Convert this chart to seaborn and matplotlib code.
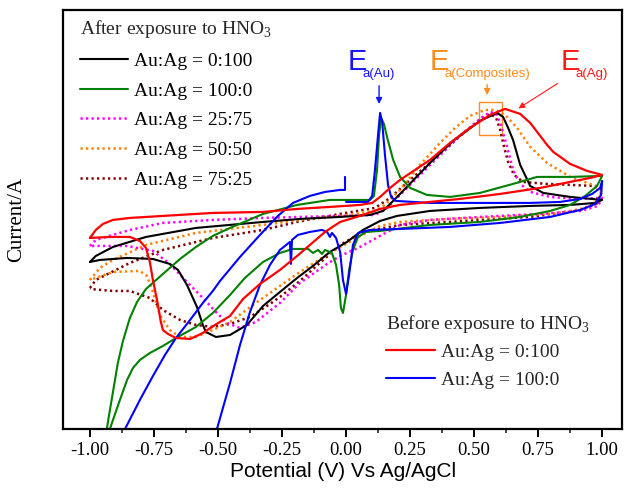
import matplotlib
matplotlib.use("Agg")
import matplotlib.pyplot as plt
import matplotlib.ticker as ticker
from matplotlib.patches import Rectangle
import seaborn as sns

# === Cyclic voltammograms (potential in V, current in arb. units) ===

# Before exposure, Au:Ag = 0:100
red_v = [-1.000, -0.977, -0.949, -0.910, -0.844, -0.715, -0.520, -0.324, -0.191, -0.063, 0.055, 0.102,
         0.133, 0.172, 0.211, 0.328, 0.406, 0.484, 0.563, 0.621, 0.680, 0.719, 0.746, 0.785, 0.809, 0.875,
         0.941, 1.000,
         0.953, 0.875, 0.758, 0.602, 0.445, 0.289, 0.211, 0.133, 0.055, -0.023, -0.082, -0.141, -0.191,
         -0.258, -0.336, -0.402, -0.453, -0.512, -0.559, -0.609, -0.664, -0.695, -0.715, -0.723, -0.738,
         -0.754, -0.766, -0.781, -0.805, -0.844, -0.922, -1.000]
red_i = [-3.8, -3.0, -2.4, -2.0, -1.8, -1.6, -1.3, -1.2, -0.9, -0.7, -0.5, -0.3,
         0.3, 1.2, 2.0, 4.0, 5.7, 7.2, 8.5, 9.1, 8.6, 7.7, 6.8, 5.5, 4.8, 3.6,
         2.9, 2.5,
         2.2, 1.8, 1.2, 0.6, 0.1, -0.3, -0.5, -0.9, -1.6, -2.2, -3.2, -4.5, -5.6,
         -7.0, -8.4, -9.9, -11.6, -12.5, -13.3, -13.9, -13.8, -13.4, -13.0, -12.2, -10.0,
         -8.0, -6.2, -4.8, -4.1, -3.7, -3.7, -3.8]

# Before exposure, Au:Ag = 100:0
blue_v = [0.000, 0.086, 0.102, 0.113, 0.125, 0.133, 0.141, 0.152, 0.164, 0.176, 0.195, 0.328, 0.523,
          0.719, 0.836, 0.914, 0.961, 0.992, 1.000,
          0.996, 0.973, 0.914, 0.797, 0.602, 0.406, 0.211, 0.094, 0.047, 0.027, 0.012, 0.000, -0.012,
          -0.023, -0.039, -0.055, -0.063, -0.074, -0.094, -0.141, -0.188, -0.211, -0.215, -0.219, -0.258,
          -0.297, -0.336, -0.375, -0.414, -0.453, -0.504, -0.520,
          -0.875, -0.863, -0.805, -0.754, -0.707, -0.664, -0.609, -0.559, -0.520, -0.492, -0.414, -0.336,
          -0.266, -0.207, -0.141, -0.082, -0.023, -0.004, -0.004]
blue_i = [-0.2, -0.2, 0.4, 3.0, 6.5, 8.7, 7.8, 4.5, 1.5, 0.3, -0.1, -0.3, -0.3,
          -0.3, -0.2, 0.1, 0.6, 1.2, 1.9,
          0.5, -0.4, -1.0, -1.7, -2.3, -2.7, -2.9, -3.0, -3.3, -4.5, -7.5, -9.4, -8.0,
          -5.2, -3.8, -3.3, -3.7, -3.2, -3.0, -3.2, -3.5, -4.0, -6.4, -4.2, -5.0,
          -6.5, -8.5, -11.2, -14.5, -18.3, -22.9, -24.5,
          -24.5, -22.9, -20.0, -17.6, -15.5, -13.8, -12.0, -10.3, -9.1, -8.1, -5.7, -3.5,
          -1.6, -0.3, 0.4, 0.8, 1.0, 1.0, 2.3]

# After exposure, Au:Ag = 100:0
green_v = [0.000, 0.094, 0.109, 0.121, 0.129, 0.137, 0.148, 0.160, 0.184, 0.211, 0.250, 0.316, 0.406,
           0.523, 0.652, 0.746, 0.875, 1.000,
           0.980, 0.934, 0.875, 0.797, 0.680, 0.523, 0.328, 0.133, 0.078, 0.047, 0.027, 0.012, 0.000,
           -0.012, -0.020, -0.027, -0.039, -0.055, -0.082, -0.094, -0.109, -0.129, -0.148, -0.207, -0.258,
           -0.324, -0.395, -0.453, -0.520, -0.586, -0.664, -0.715, -0.766, -0.805, -0.832, -0.855, -0.883,
           -0.910, -0.922, -0.930,
           -0.941, -0.934, -0.922, -0.910, -0.891, -0.871, -0.844, -0.816, -0.781, -0.715, -0.648, -0.586,
           -0.520, -0.453, -0.324, -0.191, -0.063, 0.000]
green_i = [0.0, 0.0, 0.4, 3.0, 6.5, 8.2, 7.6, 6.3, 4.0, 2.3, 1.2, 0.5, 0.3,
           0.7, 1.6, 2.3, 2.3, 2.4,
           1.4, 0.4, -0.5, -1.1, -1.7, -2.2, -2.5, -3.1, -3.2, -3.7, -5.0, -7.0, -9.5,
           -11.3, -10.8, -8.5, -6.5, -5.3, -5.0, -5.4, -5.0, -5.3, -4.9, -4.9, -5.3,
           -6.2, -7.8, -9.5, -11.3, -12.7, -13.8, -14.6, -15.3, -16.0, -16.8, -18.0, -20.0,
           -22.0, -22.9, -24.5,
           -24.5, -22.9, -21.0, -19.2, -16.3, -14.1, -11.8, -10.2, -8.9, -7.4, -5.9, -4.7,
           -3.6, -2.8, -1.4, -0.5, 0.0, 0.0]

# After exposure, Au:Ag = 0:100
black_v = [-1.000, -0.977, -0.910, -0.781, -0.586, -0.324, -0.180, -0.023, 0.094, 0.145, 0.211, 0.328,
           0.418, 0.523, 0.590, 0.613, 0.633, 0.652, 0.680, 0.719, 0.770, 0.875, 1.000,
           0.973, 0.875, 0.719, 0.523, 0.328, 0.199, 0.133, 0.066, 0.004, -0.063, -0.129, -0.191, -0.258,
           -0.324, -0.387, -0.453, -0.508, -0.547, -0.559, -0.582, -0.621, -0.656, -0.688, -0.754, -0.855,
           -0.961, -1.000]
black_i = [-6.2, -5.6, -4.7, -3.7, -2.8, -2.2, -1.9, -1.7, -1.5, -1.1, 0.6, 3.7,
           5.9, 7.9, 8.7, 8.3, 7.2, 6.0, 3.5, 1.4, 0.7, 0.3, 0.0,
           -0.3, -0.5, -0.6, -0.8, -1.1, -1.6, -2.1, -3.0, -4.2, -5.2, -6.6, -7.8, -9.2,
           -10.6, -12.5, -13.5, -13.7, -13.2, -12.5, -10.7, -8.5, -7.0, -6.4, -5.9, -5.8,
           -6.0, -6.2]

# After exposure, Au:Ag = 25:75
magenta_v = [-1.000, -0.977, -0.844, -0.715, -0.520, -0.324, -0.180, -0.023, 0.113, 0.160, 0.211, 0.328,
             0.445, 0.523, 0.563, 0.586, 0.602, 0.629, 0.652, 0.680, 0.719, 0.797, 0.895, 1.000,
             0.984, 0.914, 0.758, 0.523, 0.328, 0.211, 0.133, 0.055, -0.023, -0.074, -0.180, -0.258,
             -0.352, -0.414, -0.465, -0.508, -0.559, -0.621, -0.688, -0.754, -0.855, -1.000]
magenta_i = [-4.6, -4.0, -3.0, -2.3, -2.0, -1.8, -1.7, -1.6, -1.5, -0.8, 0.5, 3.5,
             6.4, 8.1, 8.8, 8.6, 7.7, 5.3, 3.0, 1.6, 0.8, 0.3, 0.1, 0.2,
             -0.6, -1.1, -1.4, -1.7, -2.0, -2.5, -3.6, -4.7, -5.6, -6.4, -8.3, -10.3,
             -12.2, -12.8, -12.3, -11.2, -9.8, -8.2, -6.4, -5.1, -4.6, -4.6]

# After exposure, Au:Ag = 50:50
orange_v = [-1.000, -0.961, -0.910, -0.781, -0.586, -0.324, -0.180, -0.023, 0.113, 0.152, 0.211, 0.289,
            0.367, 0.426, 0.484, 0.543, 0.582, 0.621, 0.668, 0.719, 0.785, 0.875, 0.953, 1.000,
            0.984, 0.934, 0.836, 0.602, 0.406, 0.211, 0.133, 0.055, -0.063, -0.180, -0.297, -0.352,
            -0.453, -0.520, -0.586, -0.648, -0.688, -0.727, -0.754, -0.777, -0.805, -0.910, -1.000]
orange_i = [-8.0, -6.8, -6.0, -4.5, -3.3, -2.5, -2.0, -1.6, -1.1, -0.5, 1.0, 3.5,
            5.7, 7.2, 8.4, 9.0, 9.0, 8.5, 7.2, 5.3, 3.7, 2.3, 1.6, 1.2,
            0.0, -0.8, -1.3, -1.7, -1.9, -2.2, -2.6, -3.6, -5.3, -7.2, -9.3, -10.3,
            -12.2, -13.0, -13.7, -13.7, -13.0, -11.5, -9.2, -7.6, -7.1, -7.2, -8.0]

# After exposure, Au:Ag = 75:25
brown_v = [-1.000, -0.977, -0.844, -0.715, -0.520, -0.324, -0.191, -0.023, 0.113, 0.172, 0.250, 0.328,
           0.445, 0.523, 0.563, 0.586, 0.602, 0.617, 0.633, 0.656, 0.691, 0.785, 0.875, 0.965, 1.000,
           0.984, 0.914, 0.719, 0.523, 0.406, 0.211, 0.066, -0.023, -0.102, -0.180, -0.258, -0.297,
           -0.375, -0.453, -0.520, -0.586, -0.648, -0.715, -0.766, -0.844, -0.910, -1.000]
brown_i = [-8.8, -8.0, -6.3, -5.0, -3.8, -3.0, -2.2, -1.4, -0.8, 0.2, 2.0, 3.7,
           6.4, 8.0, 8.6, 8.2, 7.0, 5.3, 3.8, 2.5, 1.8, 1.6, 1.5, 1.4, 1.0,
           -0.3, -1.0, -1.7, -2.0, -2.2, -2.5, -3.2, -4.5, -6.3, -8.1, -9.7, -10.4,
           -11.7, -12.4, -12.7, -12.5, -12.0, -11.0, -9.8, -9.1, -9.1, -8.9]

after_labels = ["Au:Ag = 0:100", "Au:Ag = 100:0", "Au:Ag = 25:75", "Au:Ag = 50:50", "Au:Ag = 75:25"]
before_labels = ["Au:Ag = 0:100", "Au:Ag = 100:0"]
x_ticks = [-1.00, -0.75, -0.50, -0.25, 0.00, 0.25, 0.50, 0.75, 1.00]

# peak annotations: (E position, subscript text, colour)
peak_notes = [
    (0.008, "a(Au)", "#1515ff"),
    (0.328, "a(Composites)", "#ff8c1a"),
    (0.836, "a(Ag)", "#ff1a1a"),
]

sns.set_theme(style="white")
plt.rcParams.update({
    "font.family": ["Liberation Serif", "DejaVu Serif"],
    "mathtext.fontset": "custom",
    "mathtext.rm": "Liberation Serif",
    "axes.unicode_minus": False,
    "axes.edgecolor": "black",
    "axes.linewidth": 1.6,
})

fig = plt.figure(figsize=(6.24, 4.92), dpi=100)
ax = fig.add_axes([0.101, 0.128, 0.896, 0.852])

dot = (0, (0.9, 1.3))
series = [
    (brown_v, brown_i, "#800000", dot, 1.8),
    (orange_v, orange_i, "#ff8000", dot, 1.8),
    (magenta_v, magenta_i, "#ff00ff", dot, 1.8),
    (black_v, black_i, "black", "-", 1.5),
    (green_v, green_i, "#008000", "-", 1.5),
    (blue_v, blue_i, "#0000ff", "-", 1.5),
    (red_v, red_i, "#ff0000", "-", 1.6),
]
handles = []
for v, cur, col, ls, lw in series:
    sns.lineplot(x=v, y=cur, sort=False, estimator=None, color=col, linestyle=ls,
                 linewidth=lw, ax=ax, legend=False)
    handles.append(ax.lines[-1])
h_brown, h_orange, h_magenta, h_black, h_green, h_blue, h_red = handles

ax.set_xlim(-1.105, 1.078)
ax.set_ylim(-22.9, 19.0)
ax.set_yticks([])
ax.set_xticks(x_ticks)
ax.set_xticklabels([f"{t:.2f}" for t in x_ticks], fontsize=13.5)
ax.xaxis.set_minor_locator(ticker.MultipleLocator(0.125))
ax.tick_params(axis="x", which="major", direction="out", length=6, width=1.4, pad=3.5,
               bottom=True, top=False, colors="black")
ax.tick_params(axis="x", which="minor", direction="out", length=3, width=1.2, bottom=True, top=False)
for s in ax.spines.values():
    s.set_visible(True)
    s.set_color("black")

ax.set_xlabel("Potential (V) Vs Ag/AgCl", fontsize=15, family="Liberation Sans", color="black")
ax.xaxis.set_label_coords(0.5, -0.079)
ax.set_ylabel("Current/A", fontsize=15, color="black")
ax.yaxis.set_label_coords(-0.066, 0.5)

# legends
leg1 = ax.legend([h_black, h_green, h_magenta, h_orange, h_brown], after_labels,
                 title="After exposure to HNO$_\\mathregular{3}$", loc="upper left",
                 bbox_to_anchor=(0.030, 0.981), frameon=False, fontsize=14, title_fontsize=14,
                 handlelength=2.5, handletextpad=0.3, labelspacing=0.62, borderpad=0,
                 borderaxespad=0, alignment="left")
leg1._legend_box.sep = 9
for t in leg1.get_texts():
    t.set_color("black")
ax.add_artist(leg1)
leg2 = ax.legend([h_red, h_blue], before_labels,
                 title="Before exposure to HNO$_\\mathregular{3}$", loc="upper left",
                 bbox_to_anchor=(0.578, 0.277), frameon=False, fontsize=14, title_fontsize=14,
                 handlelength=2.5, handletextpad=0.3, labelspacing=0.55, borderpad=0,
                 borderaxespad=0, alignment="left")
leg2._legend_box.sep = 6

# peak labels, arrows and box
for x0, sub, col in peak_notes:
    ax.text(x0, 13.0, "E", color=col, fontsize=21, family="Liberation Sans", ha="left", va="baseline")
    ax.text(x0 + 0.058, 12.3, sub, color=col, fontsize=9.5, family="Liberation Sans",
            ha="left", va="baseline")

ax.annotate("", xy=(0.129, 9.3), xytext=(0.129, 11.7),
            arrowprops=dict(arrowstyle="-|>", color="#1515ff", lw=1.0, mutation_scale=9))
ax.annotate("", xy=(0.551, 10.2), xytext=(0.551, 11.8),
            arrowprops=dict(arrowstyle="-|>", color="#ff8c1a", lw=1.0, mutation_scale=9))
ax.annotate("", xy=(0.664, 9.0), xytext=(0.836, 11.8),
            arrowprops=dict(arrowstyle="-|>", color="#ff1a1a", lw=0.8, mutation_scale=9))
ax.add_patch(Rectangle((0.520, 6.5), 0.089, 3.3, fill=False, edgecolor="#ff8c1a", lw=1.0))

fig.savefig("out.png", dpi=100)
print("Plot created, no errors")
